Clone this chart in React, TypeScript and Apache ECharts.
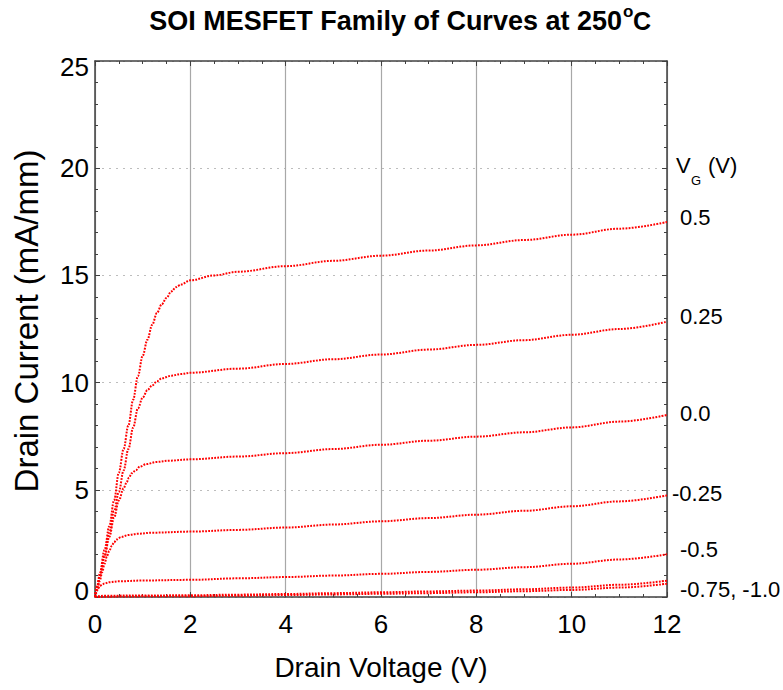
import React, { useEffect, useRef } from "react";
import * as echarts from "echarts";

// Drain voltage (V), drain current (mA/mm) pairs
const vg050: number[][] = [
  [0, 0], [0.05, 0.55], [0.1, 1.1], [0.2, 2.2], [0.3, 3.3], [0.4, 4.5], [0.5, 5.8],
  [0.6, 6.9], [0.7, 8.0], [0.8, 9.2], [0.9, 10.3], [1.0, 11.25], [1.1, 12.0],
  [1.2, 12.7], [1.3, 13.25], [1.4, 13.65], [1.5, 13.95], [1.6, 14.25], [1.7, 14.45],
  [1.8, 14.57], [2.0, 14.77], [2.5, 15.0], [3, 15.17], [4, 15.43], [5, 15.68],
  [6, 15.92], [7, 16.16], [8, 16.4], [9, 16.65], [10, 16.9], [11, 17.18], [12, 17.49],
];
const vg025: number[][] = [
  [0, 0], [0.05, 0.45], [0.1, 0.95], [0.2, 1.9], [0.3, 3.0], [0.4, 4.0], [0.5, 4.9],
  [0.6, 5.9], [0.7, 6.9], [0.8, 7.9], [0.9, 8.8], [1.0, 9.3], [1.1, 9.65],
  [1.2, 9.87], [1.3, 10.06], [1.4, 10.2], [1.6, 10.32], [1.8, 10.4], [2.0, 10.46],
  [3, 10.65], [4, 10.87], [5, 11.09], [6, 11.31], [7, 11.54], [8, 11.76],
  [9, 11.98], [10, 12.23], [11, 12.5], [12, 12.84],
];
const vg000: number[][] = [
  [0, 0], [0.05, 0.5], [0.1, 1.0], [0.2, 1.9], [0.3, 2.8], [0.4, 3.7], [0.5, 4.5],
  [0.6, 5.07], [0.665, 5.35], [0.71, 5.56], [0.77, 5.77], [0.86, 5.92], [0.94, 6.08],
  [1.08, 6.2], [1.29, 6.3], [1.57, 6.36], [2.0, 6.42], [3, 6.55], [4, 6.71],
  [5, 6.9], [6, 7.1], [7, 7.29], [8, 7.48], [9, 7.68], [10, 7.91], [11, 8.18], [12, 8.49],
];
const vgm025: number[][] = [
  [0, 0], [0.05, 0.35], [0.1, 0.75], [0.15, 1.15], [0.2, 1.55], [0.25, 1.9],
  [0.3, 2.15], [0.35, 2.38], [0.4, 2.55], [0.45, 2.68], [0.55, 2.8], [0.7, 2.89],
  [0.9, 2.95], [1.2, 3.0], [2.0, 3.05], [3, 3.13], [4, 3.24], [5, 3.38], [6, 3.53],
  [7, 3.68], [8, 3.84], [9, 4.02], [10, 4.23], [11, 4.46], [12, 4.74],
];
const vgm050: number[][] = [
  [0, 0], [0.03, 0.2], [0.06, 0.38], [0.1, 0.5], [0.15, 0.58], [0.2, 0.63],
  [0.3, 0.69], [0.5, 0.73], [1, 0.77], [2, 0.8], [3, 0.87], [4, 0.93], [5, 1.0],
  [6, 1.08], [7, 1.17], [8, 1.27], [9, 1.39], [10, 1.55], [11, 1.75], [12, 1.99],
];
const vgm075: number[][] = [
  [0, 0], [0.05, 0.04], [0.2, 0.06], [1, 0.07], [2, 0.08], [3, 0.11], [4, 0.14],
  [5, 0.18], [6, 0.22], [7, 0.26], [8, 0.3], [9, 0.36], [10, 0.44], [11, 0.57], [12, 0.76],
];
const vgm100: number[][] = [
  [0, 0], [1, 0.03], [2, 0.04], [3, 0.06], [4, 0.09], [5, 0.12], [6, 0.15],
  [7, 0.18], [8, 0.22], [9, 0.27], [10, 0.33], [11, 0.44], [12, 0.62],
];

const curves = [vg050, vg025, vg000, vgm025, vgm050, vgm075, vgm100];
const curveNames = ["0.5", "0.25", "0.0", "-0.25", "-0.5", "-0.75", "-1.0"];

// Labels on the right side
const gateLabels = ["0.5", "0.25", "0.0", "-0.25", "-0.5", "-0.75, -1.0"];
const gateLabelPos = [
  [680, 217], [680, 316], [680, 413], [672, 493], [680, 549], [680, 589],
];

const FONT = "'Liberation Sans', Arial, Helvetica, sans-serif";
const AXIS_COLOR = "#404040";

export default function App() {
  const ref = useRef<HTMLDivElement>(null);
  useEffect(() => {
    if (!ref.current) return;
    const chart = echarts.init(ref.current, null, { renderer: "svg" });

    const axisCommonX = {
      type: "value" as const,
      min: 0,
      max: 12,
      interval: 2,
      axisLine: { show: true, onZero: false, lineStyle: { color: AXIS_COLOR, width: 1.5 } },
      axisTick: { show: true, inside: true, length: 5, lineStyle: { color: AXIS_COLOR, width: 1 } },
      minorTick: { show: true, splitNumber: 4, length: 3, lineStyle: { color: AXIS_COLOR, width: 1 } },
    };
    const axisCommonY = {
      type: "value" as const,
      min: 0,
      max: 25,
      interval: 5,
      axisLine: { show: true, onZero: false, lineStyle: { color: AXIS_COLOR, width: 1.5 } },
      axisTick: { show: true, inside: true, length: 5, lineStyle: { color: AXIS_COLOR, width: 1 } },
      minorTick: { show: true, splitNumber: 5, length: 3, lineStyle: { color: AXIS_COLOR, width: 1 } },
    };

    const option: any = {
      animation: false,
      backgroundColor: "#ffffff",
      grid: { left: 95, right: 116, top: 61, bottom: 93, containLabel: false },
      xAxis: [
        {
          ...axisCommonX,
          position: "bottom",
          axisLabel: { fontSize: 26, color: "#000", fontFamily: FONT, margin: 14 },
          splitLine: { show: true, lineStyle: { color: "#a8a8a8", width: 1.2 } },
          minorSplitLine: { show: false },
          name: "Drain Voltage (V)",
          nameLocation: "middle",
          nameGap: 56,
          nameTextStyle: { fontSize: 28, color: "#000", fontFamily: FONT },
        },
        {
          ...axisCommonX,
          position: "top",
          axisLabel: { show: false },
          splitLine: { show: false },
        },
      ],
      yAxis: [
        {
          ...axisCommonY,
          position: "left",
          axisLabel: {
            fontSize: 26,
            color: "#000",
            fontFamily: FONT,
            margin: 6,
            formatter: (v: number) => (v === 0 ? "{lo|0}" : v === 25 ? "{hi|25}" : String(v)),
            rich: {
              lo: { fontSize: 26, fontFamily: FONT, color: "#000", padding: [0, 0, 13, 0] },
              hi: { fontSize: 26, fontFamily: FONT, color: "#000", padding: [12, 0, 0, 0] },
            },
          },
          splitLine: { show: true, lineStyle: { color: "#bdbdbd", width: 1.2, type: [2, 5] } },
          name: "Drain Current (mA/mm)",
          nameLocation: "middle",
          nameGap: 52,
          nameTextStyle: { fontSize: 33, color: "#000", fontFamily: FONT, padding: [0, 0, 0, 16] },
        },
        {
          ...axisCommonY,
          position: "right",
          axisLabel: { show: false },
          splitLine: { show: false },
        },
      ],
      series: curves.map((d, i) => ({
        name: curveNames[i],
        type: "line",
        xAxisIndex: 0,
        yAxisIndex: 0,
        data: d,
        showSymbol: false,
        symbol: "none",
        smooth: 0.35,
        smoothMonotone: "x",
        lineStyle: { color: "#ff0000", width: 2, type: [1.8, 1.3] },
        silent: true,
        z: 5,
      })),
      graphic: [
        {
          type: "text",
          x: 622,
          y: 21,
          style: {
            text: "SOI MESFET Family of Curves at 250",
            font: `bold 27px ${FONT}`,
            fill: "#000",
            textAlign: "right",
            textVerticalAlign: "middle",
            align: "right",
            verticalAlign: "middle",
          },
        },
        {
          type: "text",
          x: 623,
          y: 11.5,
          style: {
            text: "o",
            font: `bold 17px ${FONT}`,
            fill: "#000",
            textAlign: "left",
            textVerticalAlign: "middle",
            align: "left",
            verticalAlign: "middle",
          },
        },
        {
          type: "text",
          x: 633,
          y: 21,
          style: {
            text: "C",
            font: `bold 25px ${FONT}`,
            fill: "#000",
            textAlign: "left",
            textVerticalAlign: "middle",
            align: "left",
            verticalAlign: "middle",
          },
        },
        {
          type: "text",
          x: 676,
          y: 165,
          style: {
            text: "V",
            font: `22px ${FONT}`,
            fill: "#000",
            textAlign: "left",
            textVerticalAlign: "middle",
            align: "left",
            verticalAlign: "middle",
          },
        },
        {
          type: "text",
          x: 691,
          y: 180,
          style: {
            text: "G",
            font: `13px ${FONT}`,
            fill: "#000",
            textAlign: "left",
            textVerticalAlign: "middle",
            align: "left",
            verticalAlign: "middle",
          },
        },
        {
          type: "text",
          x: 708,
          y: 165,
          style: {
            text: "(V)",
            font: `22px ${FONT}`,
            fill: "#000",
            textAlign: "left",
            textVerticalAlign: "middle",
            align: "left",
            verticalAlign: "middle",
          },
        },
        ...gateLabels.map((t, i) => ({
          type: "text",
          x: gateLabelPos[i][0],
          y: gateLabelPos[i][1],
          style: {
            text: t,
            font: `22px ${FONT}`,
            fill: "#000",
            textAlign: "left",
            textVerticalAlign: "middle",
            align: "left",
            verticalAlign: "middle",
          },
        })),
      ],
    };

    chart.setOption(option);
    return () => {
      chart.dispose();
    };
  }, []);

  return (
    <div
      ref={ref}
      style={{ position: "absolute", left: 0, top: 0, width: 783, height: 690, background: "#fff" }}
    />
  );
}
